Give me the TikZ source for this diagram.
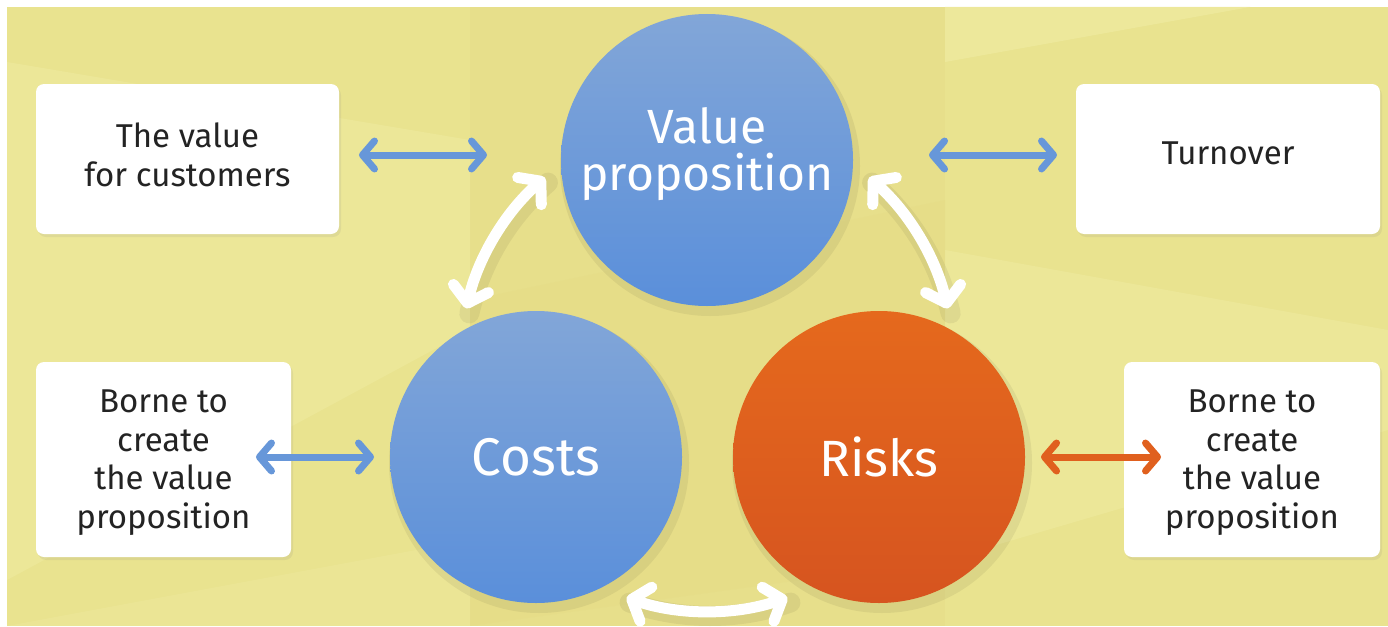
\documentclass[tikz,border=0pt]{standalone}
\usepackage{fontspec}
\setmainfont{Fira Sans}
\usetikzlibrary{arrows.meta,shadows,calc}
\definecolor{bg}{HTML}{E9E38F}
\definecolor{bglight}{HTML}{EEEA9F}
\definecolor{bgdark}{HTML}{E4D982}
\definecolor{btop}{HTML}{82A6D8}
\definecolor{bbot}{HTML}{5A8FDA}
\definecolor{otop}{HTML}{E5691D}
\definecolor{obot}{HTML}{D6541F}
\definecolor{barrowc}{HTML}{6797D9}
\definecolor{oarrowc}{HTML}{E0601E}
\definecolor{txt}{HTML}{232323}
\tikzset{
  bigcircle/.style={circle, minimum size=292pt, inner sep=0pt},
  bluecirc/.style={bigcircle, top color=btop, bottom color=bbot},
  orangecirc/.style={bigcircle, top color=otop, bottom color=obot},
  circtext/.style={text=white, align=center, inner sep=0pt},
  infobox/.style={rectangle, rounded corners=8pt, fill=white, inner sep=0pt,
    drop shadow={opacity=0.12, shadow xshift=2pt, shadow yshift=-3pt}},
  boxtext/.style={text=txt, align=center, inner sep=0pt, font=\fontsize{33}{38.5}\selectfont},
  linkarrow/.style={line width=7pt, line cap=round,
    {Straight Barb[round,length=12pt,width=28pt]}-{Straight Barb[round,length=12pt,width=28pt]}},
  bluelink/.style={linkarrow, draw=barrowc},
  orangelink/.style={linkarrow, draw=oarrowc},
  cyclearrow/.style={draw=white, line width=11pt, line cap=round,
    {Straight Barb[round,length=15pt,width=36pt]}-{Straight Barb[round,length=15pt,width=36pt]}},
  cycleshadow/.style={draw=black, opacity=0.06, line width=20pt, line cap=round},
}
\begin{document}
\begin{tikzpicture}[x=1pt,y=-1pt]
\useasboundingbox (0,0) rectangle (1388,626);
\fill[white] (0,0) rectangle (1388,626);
% background
\fill[bg] (7,7) rectangle (1388,626);
\fill[bgdark, opacity=0.3] (470,7) rectangle (945,626);
\fill[bglight, opacity=0.8] (945,7) -- (1250,7) -- (945,62) -- cycle;
\fill[bglight, opacity=0.6] (7,62) -- (470,140) -- (470,330) -- (7,580) -- cycle;
\fill[bglight, opacity=0.6] (945,250) -- (1388,330) -- (1388,430) -- (945,560) -- cycle;
\fill[bgdark, opacity=0.25] (470,300) -- (945,200) -- (945,560) -- (470,626) -- cycle;
\fill[bglight, opacity=0.4] (7,626) -- (470,540) -- (470,626) -- cycle;
% circles
\fill[black, opacity=0.06] (710,166) circle[radius=150];
\fill[black, opacity=0.06] (539,463) circle[radius=150];
\fill[black, opacity=0.06] (882,463) circle[radius=150];
\node[bluecirc] (V) at (707,160) {};
\node[bluecirc] (C) at (536,457) {};
\node[orangecirc] (R) at (879,457) {};
\node[circtext, font=\fontsize{48}{47}\selectfont] (Vt) at (707,154) {Value\\proposition};
\node[circtext, font=\fontsize{53}{50}\selectfont] (Ct) at (536,457) {Costs};
\node[circtext, font=\fontsize{51}{50}\selectfont] (Rt) at (879,457) {Risks};
% boxes
\node[infobox, minimum width=303pt, minimum height=150pt] (B1) at (187.5,159) {};
\node[infobox, minimum width=304pt, minimum height=150pt] (B2) at (1228,159) {};
\node[infobox, minimum width=255pt, minimum height=195pt] (B3) at (163.5,459.5) {};
\node[infobox, minimum width=256pt, minimum height=195pt] (B4) at (1252,459.5) {};
\node[boxtext] (B1t) at (187.5,155) {The value\\for customers};
\node[boxtext] (B2t) at (1228,153) {Turnover};
\node[boxtext] (B3t) at (163.5,462.5) {Borne to\\create\\the value\\proposition};
\node[boxtext] (B4t) at (1252,462.5) {Borne to\\create\\the value\\proposition};
% link arrows
\coordinate (l1a) at (359,155); \coordinate (l1b) at (487,155);
\coordinate (l2a) at (929,155); \coordinate (l2b) at (1057,155);
\coordinate (l3a) at (256,457); \coordinate (l3b) at (374,457);
\coordinate (l4a) at (1041,457); \coordinate (l4b) at (1161,457);
\draw[bluelink] (l1a) -- (l1b);
\draw[bluelink] (l2a) -- (l2b);
\draw[bluelink] (l3a) -- (l3b);
\draw[orangelink] (l4a) -- (l4b);
% cycle arrows (arcs around a common centre)
\coordinate (O) at (707,364);
\coordinate (cL1) at ($(O)+(229:247)$);
\coordinate (cR1) at ($(O)+(311:247)$);
\coordinate (cB1) at ($(O)+(109:247)$);
\draw[cycleshadow] ($(cL1)+(3,5)$) arc[start angle=229, end angle=193, radius=247];
\draw[cycleshadow] ($(cR1)+(3,5)$) arc[start angle=311, end angle=347, radius=247];
\draw[cycleshadow] ($(cB1)+(3,5)$) arc[start angle=109, end angle=71, radius=247];
\draw[cyclearrow] (cL1) arc[start angle=229, end angle=193, radius=247];
\draw[cyclearrow] (cR1) arc[start angle=311, end angle=347, radius=247];
\draw[cyclearrow] (cB1) arc[start angle=109, end angle=71, radius=247];
\end{tikzpicture}
\end{document}
